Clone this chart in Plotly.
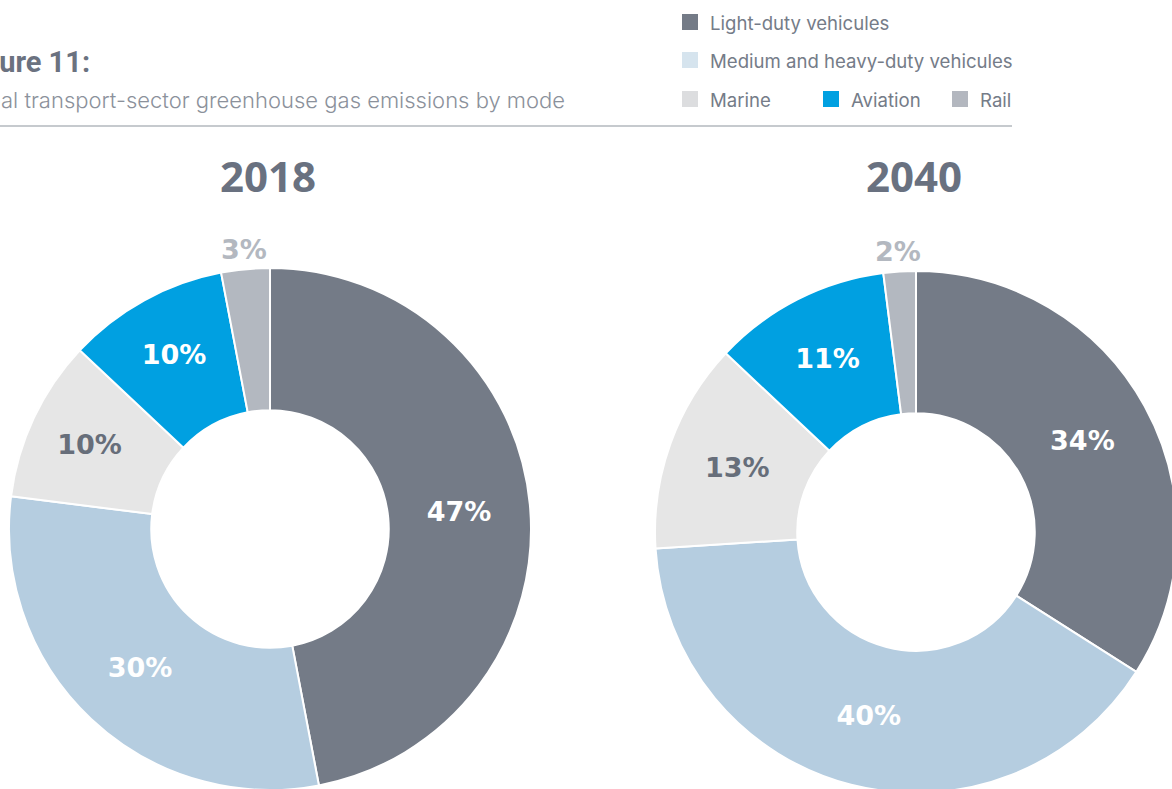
import math
import plotly.graph_objects as go

# ---- data ----
modes = ["Light-duty vehicules", "Medium and heavy-duty vehicules", "Marine", "Aviation", "Rail"]
share_2018 = [47, 30, 10, 10, 3]
share_2040 = [34, 40, 13, 11, 2]
years = ["2018", "2040"]

slice_colors = ["#747b87", "#b5cde0", "#e6e6e6", "#00a0e1", "#b3b8c0"]
legend_colors = ["#747b87", "#d6e4ee", "#dcdddf", "#00a0e1", "#b3b7bf"]
label_colors = ["#ffffff", "#ffffff", "#676e7a", "#ffffff", "#b3b8c0"]

# figure is a little larger than the 1172x789 window; the page clips it
W, H = 1180, 800

def px_dom(cx, cy, r):
    return dict(x=[(cx - r) / W, (cx + r) / W], y=[(H - cy - r) / H, (H - cy + r) / H])

centers = [(270, 529, 261), (916, 532, 261)]

fig = go.Figure()
ann = []
for vals, (cx, cy, r) in zip([share_2018, share_2040], centers):
    # small last slice is labelled outside (see annotation below)
    tmpl = ["%{value}%"] * (len(vals) - 1) + [""]
    fig.add_trace(go.Pie(
        labels=modes, values=vals, domain=px_dom(cx, cy, r), hole=0.455, sort=False,
        direction="clockwise", rotation=0,
        marker=dict(colors=slice_colors, line=dict(color="white", width=2)),
        texttemplate=tmpl, textposition="inside",
        insidetextorientation="horizontal",
        insidetextfont=dict(family="DejaVu Sans", size=27, color=label_colors, weight="bold"),
        hoverinfo="label+percent", showlegend=False,
    ))
    # outside label of the last slice, placed on its mid angle just beyond the rim
    total = sum(vals)
    mid = (total - vals[-1] / 2) / total * 2 * math.pi
    lr = r - 2 + 22
    ann.append(dict(text=f"{vals[-1]}%", x=(cx + lr * math.sin(mid)) / W,
                    y=1 - (cy - lr * math.cos(mid)) / H, xref="paper", yref="paper",
                    xanchor="center", yanchor="middle", showarrow=False,
                    font=dict(family="DejaVu Sans", size=27, color=label_colors[-1], weight="bold")))

# year headings
for yr, cx in zip(years, [268, 914]):
    ann.append(dict(text=yr, x=cx / W, y=1 - 176 / H, xref="paper", yref="paper",
                    xanchor="center", yanchor="middle", showarrow=False,
                    font=dict(family="Open Sans", size=42, color="#697180", weight="bold")))
# figure title (cropped at the left edge)
ann.append(dict(text="Figure 11:", x=-43 / W, y=1 - 62 / H, xref="paper", yref="paper",
                xanchor="left", yanchor="middle", showarrow=False,
                font=dict(family="Roboto", size=29, color="#6b7280", weight="bold")))
ann.append(dict(text="Global transport-sector greenhouse gas emissions by mode", x=-49 / W, y=1 - 100 / H,
                xref="paper", yref="paper", xanchor="left", yanchor="middle", showarrow=False,
                font=dict(family="Inter", size=22, color="#8b919b", weight=300)))

# legend (manual layout)
leg_pos = [(682, 22), (682, 60), (682, 99), (823, 99), (952, 99)]
shapes = []
for name, col, (lx, ly) in zip(modes, legend_colors, leg_pos):
    shapes.append(dict(type="rect", xref="paper", yref="paper",
                       x0=lx / W, x1=(lx + 16) / W, y0=1 - (ly + 8) / H, y1=1 - (ly - 8) / H,
                       fillcolor=col, line=dict(width=0)))
    ann.append(dict(text=name, x=(lx + 26) / W, y=1 - (ly + 1) / H, xref="paper", yref="paper",
                    xanchor="left", yanchor="middle", showarrow=False,
                    font=dict(family="Inter", size=18.6, color="#757c88")))
# horizontal rule
shapes.append(dict(type="line", xref="paper", yref="paper", x0=0, x1=1012 / W,
                   y0=1 - 126 / H, y1=1 - 126 / H, line=dict(color="#b3b8be", width=1.5)))

fig.update_layout(width=W, height=H, margin=dict(l=0, r=0, t=0, b=0),
                  paper_bgcolor="white", plot_bgcolor="white",
                  annotations=ann, shapes=shapes)
fig.write_html("out.html", config={"displayModeBar": False},
               post_script="document.body.style.margin='0';document.body.style.overflow='hidden';"
                           "document.documentElement.style.overflow='hidden';")
